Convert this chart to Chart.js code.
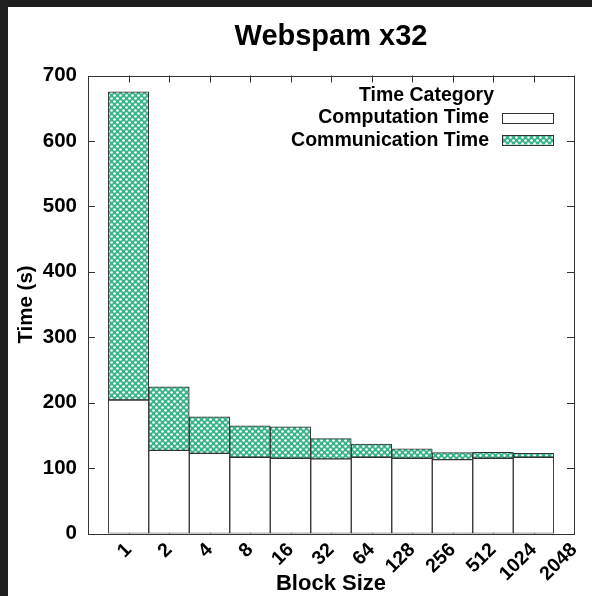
<!DOCTYPE html>
<html><head><meta charset="utf-8">
<script src="https://cdn.jsdelivr.net/npm/chart.js@4/dist/chart.umd.min.js"></script>
<style>
html,body{margin:0;padding:0;background:#1e1e1e;width:592px;height:596px;overflow:hidden}
#wrap{position:absolute;left:8px;top:7px;width:584px;height:589px;background:#fff}
canvas{display:block}
</style></head><body>
<div id="wrap"><canvas id="c" width="584" height="589"></canvas></div>
<script>
// ---- data ----
const blockSizes = ['1','2','4','8','16','32','64','128','256','512','1024','2048'];
const computationTime = [204, 127, 122.5, 116.5, 115, 114, 116.5, 115, 113, 115, 116.5, null];
const communicationTime = [471, 97, 56, 48, 48, 31, 20, 14.5, 10.5, 9, 6, null];
const yTickValues = [0, 100, 200, 300, 400, 500, 600, 700];
const chartTitle = 'Webspam x32';
const xTitle = 'Block Size';
const yTitle = 'Time (s)';
const legendTitle = 'Time Category';
const seriesNames = ['Computation Time', 'Communication Time'];

const FONT = "'Liberation Sans', Arial, Helvetica, sans-serif";
// one empty slot before the first block size so the axis starts half a bar earlier
const labels = [''].concat(blockSizes);
const compData = [null].concat(computationTime);
const commData = [null].concat(communicationTime);

function makePattern() {
  const t = document.createElement('canvas');
  t.width = 6; t.height = 6;
  const g = t.getContext('2d');
  g.fillStyle = '#3ab38b';
  g.fillRect(0, 0, 6, 6);
  g.fillStyle = '#ffffff';
  g.beginPath(); g.arc(1.5, 1.5, 1.35, 0, Math.PI * 2); g.fill();
  g.beginPath(); g.arc(4.5, 4.5, 1.35, 0, Math.PI * 2); g.fill();
  return document.getElementById('c').getContext('2d').createPattern(t, 'repeat');
}
const commPattern = makePattern();

const framePlugin = {
  id: 'frame',
  beforeDraw(chart) {
    const ctx = chart.ctx;
    ctx.save(); ctx.fillStyle = '#fff'; ctx.fillRect(0, 0, chart.width, chart.height); ctx.restore();
  },
  beforeDatasetsDraw(chart) {
    const { ctx, chartArea: a, scales: { x, y } } = chart;
    ctx.save();
    ctx.strokeStyle = '#333'; ctx.lineWidth = 1;
    ctx.beginPath();
    yTickValues.forEach(v => {
      const p = Math.round(y.getPixelForValue(v)) + 0.5;
      ctx.moveTo(a.left, p); ctx.lineTo(a.left + 7, p);
      ctx.moveTo(a.right, p); ctx.lineTo(a.right - 7, p);
    });
    labels.forEach((l, i) => {
      if (!l) return;
      const p = Math.round(x.getPixelForValue(i)) + 0.5;
      ctx.moveTo(p, a.bottom); ctx.lineTo(p, a.bottom - 7);
      ctx.moveTo(p, a.top); ctx.lineTo(p, a.top + 7);
    });
    ctx.stroke();
    ctx.restore();
  },
  afterDatasetsDraw(chart) {
    const { ctx, chartArea: a } = chart;
    ctx.save();
    ctx.strokeStyle = '#333'; ctx.lineWidth = 1;
    ctx.strokeRect(Math.round(a.left) + 0.5, Math.round(a.top) + 0.5,
      Math.round(a.right - a.left), Math.round(a.bottom - a.top));
    // key
    ctx.fillStyle = '#000';
    ctx.font = 'bold 19.5px ' + FONT;
    ctx.textBaseline = 'middle';
    ctx.textAlign = 'center';
    ctx.fillText(legendTitle, a.right - 147.5, a.top + 20);
    ctx.textAlign = 'right';
    const rows = [a.top + 42.5, a.top + 65];
    const fills = ['#ffffff', commPattern];
    seriesNames.forEach((n, i) => {
      ctx.fillStyle = '#000';
      ctx.fillText(n, a.right - 85, rows[i]);
      const bx = a.right - 72, bw = 51, bh = 9.5;
      const by = Math.round(rows[i] - bh / 2 - 0.5);
      ctx.fillStyle = fills[i];
      ctx.fillRect(bx, by, bw, bh);
      ctx.strokeStyle = '#333';
      ctx.strokeRect(Math.round(bx) + 0.5, by + 0.5, bw, Math.round(bh));
    });
    ctx.restore();
  }
};

new Chart(document.getElementById('c'), {
  type: 'bar',
  data: {
    labels: labels,
    datasets: [
      { label: seriesNames[0], data: compData, backgroundColor: '#ffffff',
        borderColor: '#333', borderWidth: 1, borderSkipped: false,
        barPercentage: 1, categoryPercentage: 1 },
      { label: seriesNames[1], data: commData, backgroundColor: commPattern,
        borderColor: '#333', borderWidth: 1, borderSkipped: false,
        barPercentage: 1, categoryPercentage: 1 }
    ]
  },
  options: {
    responsive: false,
    animation: false,
    devicePixelRatio: 1,
    layout: { padding: { left: 0, right: 18, top: 0, bottom: 0 } },
    plugins: {
      legend: { display: false },
      tooltip: { enabled: false },
      title: {
        display: true, text: chartTitle, fullSize: false, color: '#000',
        font: { family: FONT, size: 29, weight: 'bold', lineHeight: 1.2 },
        padding: { top: 13, bottom: 20.7 }
      }
    },
    scales: {
      x: {
        type: 'category', stacked: true, offset: false,
        grid: { display: false, drawTicks: false },
        border: { display: false },
        ticks: { autoSkip: false, minRotation: 45, maxRotation: 45, color: '#000', padding: 5,
          font: { family: FONT, size: 19.5, weight: 'bold' } },
        title: { display: true, text: xTitle, color: '#000', padding: { top: 0, bottom: 0 },
          font: { family: FONT, size: 22, weight: 'bold', lineHeight: 1.1 } },
        afterFit(s) { s.height = 62.5; s.paddingLeft = 0; s.paddingRight = 0; }
      },
      y: {
        stacked: true, min: 0, max: 700,
        grid: { display: false, drawTicks: false },
        border: { display: false },
        ticks: { stepSize: 100, color: '#000', padding: 11,
          font: { family: FONT, size: 20.5, weight: 'bold' } },
        title: { display: true, text: yTitle, color: '#000', padding: { top: 6, bottom: 0 },
          font: { family: FONT, size: 20.5, weight: 'bold', lineHeight: 1.2 } },
        afterFit(s) { s.width = 80; s.paddingTop = 0; s.paddingBottom = 0; }
      }
    }
  },
  plugins: [framePlugin]
});
</script>
</body></html>
